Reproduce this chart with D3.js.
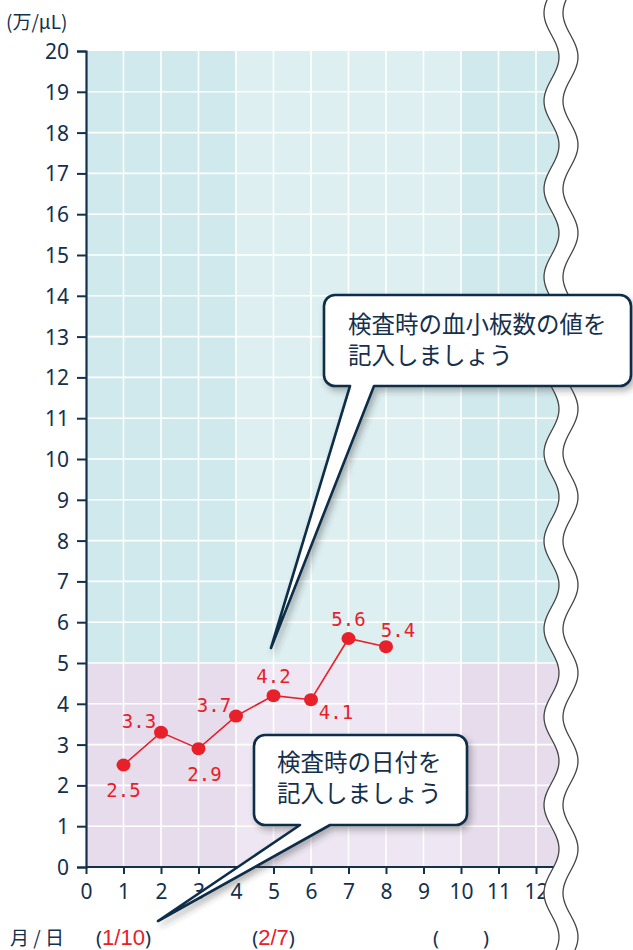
<!DOCTYPE html>
<html>
<head>
<meta charset="utf-8">
<script src="https://cdn.jsdelivr.net/npm/d3@7"></script>
<style>
  body { margin: 0; background: #fff; }
  svg { display: block; }
  .tick text { font-size: 21px; font-family: 'Noto Sans', 'Open Sans', sans-serif; }
</style>
</head>
<body>
<script>
const w = 633;
const h = 950;

// data
const visits = [1, 2, 3, 4, 5, 6, 7, 8];
const plateletValues = [2.5, 3.3, 2.9, 3.7, 4.2, 4.1, 5.6, 5.4];
const xTicks = [0, 1, 2, 3, 4, 5, 6, 7, 8, 9, 10, 11, 12];
const yTicks = d3.range(0, 21);
const dateSlots = [1, 5, 10];
const dateLabels = ["1/10", "2/7", ""];
const unitLabel = "(万/μL)";
const dateRowLabel = "月 / 日";
const valueCallout = ["検査時の血小板数の値を", "記入しましょう"];
const dateCallout = ["検査時の日付を", "記入しましょう"];

const navy = "#14304d";
const red = "#e8202a";
const numFont = "'Noto Sans', 'Open Sans', sans-serif";
const jpFont = "'Noto Sans CJK JP', sans-serif";

const x = d3.scaleLinear().domain([0, 12]).range([86, 536]);
const y = d3.scaleLinear().domain([0, 20]).range([867, 51]);
const xEnd = 12.7;

const svg = d3.select("body").append("svg")
    .attr("width", w)
    .attr("height", h);

const defs = svg.append("defs");
const shadow = defs.append("filter").attr("id", "shadow")
    .attr("x", "-20%").attr("y", "-20%").attr("width", "140%").attr("height", "140%");
shadow.append("feDropShadow")
    .attr("dx", 3).attr("dy", 4).attr("stdDeviation", 3)
    .attr("flood-color", "#333").attr("flood-opacity", 0.35);

// background bands: two value zones x three column groups
const bands = [
    { x0: 0, x1: 4, y0: 5, y1: 20, fill: "#d0e9ec" },
    { x0: 4, x1: 10, y0: 5, y1: 20, fill: "#ddeff1" },
    { x0: 10, x1: xEnd, y0: 5, y1: 20, fill: "#d0e9ec" },
    { x0: 0, x1: 4, y0: 0, y1: 5, fill: "#e6dcec" },
    { x0: 4, x1: 10, y0: 0, y1: 5, fill: "#eee7f3" },
    { x0: 10, x1: xEnd, y0: 0, y1: 5, fill: "#e6dcec" }
];
svg.append("g").selectAll("rect")
    .data(bands)
    .enter().append("rect")
    .attr("x", d => x(d.x0))
    .attr("y", d => y(d.y1))
    .attr("width", d => x(d.x1) - x(d.x0))
    .attr("height", d => y(d.y0) - y(d.y1))
    .attr("fill", d => d.fill);

// grid
const grid = svg.append("g").attr("stroke", "#fff").attr("stroke-width", 1.6);
grid.selectAll("line.v")
    .data(xTicks.filter(d => d > 0))
    .enter().append("line")
    .attr("class", "v")
    .attr("x1", d => x(d)).attr("x2", d => x(d))
    .attr("y1", y(20)).attr("y2", y(0));
grid.selectAll("line.h")
    .data(yTicks.filter(d => d > 0 && d < 20))
    .enter().append("line")
    .attr("class", "h")
    .attr("x1", x(0)).attr("x2", x(xEnd))
    .attr("y1", d => y(d)).attr("y2", d => y(d));

// axes
const yAxis = d3.axisLeft(y).tickValues(yTicks).tickSize(9).tickPadding(8);
const xAxis = d3.axisBottom(x).tickValues(xTicks).tickSize(7).tickPadding(10);

const gy = svg.append("g")
    .attr("transform", `translate(${x(0)},0)`)
    .call(yAxis);
const gx = svg.append("g")
    .attr("transform", `translate(0,${y(0)})`)
    .call(xAxis);
gx.select(".domain").attr("d", `M${x(0)},0H${x(xEnd)}`);
[gx, gy].forEach(g => {
    g.attr("font-size", null).attr("font-family", null);
    g.select(".domain").attr("stroke", navy).attr("stroke-width", 2.2);
    g.selectAll(".tick line").attr("stroke", navy).attr("stroke-width", 2);
    g.selectAll(".tick text").attr("fill", navy);
});
gy.selectAll(".tick text").attr("dy", "0.36em");

svg.append("text")
    .attr("x", 6).attr("y", 29)
    .attr("fill", navy)
    .style("font-family", jpFont)
    .style("font-size", "19px")
    .text(unitLabel);

// wavy break on the right
const waveX = yy => 551.5 + 7.5 * Math.cos(2 * Math.PI * (yy - 57) / 88);
const waveYs = d3.range(-10, h + 12, 2);
svg.append("path")
    .datum(waveYs)
    .attr("fill", "#fff")
    .attr("d", d3.area().y(d => d).x0(d => waveX(d)).x1(w + 5));
[0, 19].forEach(off => {
    svg.append("path")
        .datum(waveYs)
        .attr("fill", "none")
        .attr("stroke", "#444")
        .attr("stroke-width", 1.3)
        .attr("d", d3.line().y(d => d).x(d => waveX(d) + off).curve(d3.curveBasis));
});

// data line and points
const pts = visits.map((v, i) => ({ v, val: plateletValues[i] }));
svg.append("path")
    .datum(pts)
    .attr("fill", "none")
    .attr("stroke", red)
    .attr("stroke-width", 1.6)
    .attr("d", d3.line().x(d => x(d.v)).y(d => y(d.val)));
svg.append("g").selectAll("ellipse")
    .data(pts)
    .enter().append("ellipse")
    .attr("cx", d => x(d.v))
    .attr("cy", d => y(d.val))
    .attr("rx", 7).attr("ry", 6.5)
    .attr("fill", red);

// value labels: where each sits around its point
const labelSide = ["below", "upLeft", "belowRight", "upLeft", "up", "downRight", "up", "upRight"];
const sideOffset = {
    below: [0, 32], up: [0, -13], upLeft: [-22, -4], upRight: [12, -10],
    belowRight: [6, 32], downRight: [25, 19]
};
svg.append("g").selectAll("text")
    .data(pts)
    .enter().append("text")
    .attr("x", (d, i) => x(d.v) + sideOffset[labelSide[i]][0])
    .attr("y", (d, i) => y(d.val) + sideOffset[labelSide[i]][1])
    .attr("text-anchor", "middle")
    .attr("fill", red)
    .style("font-family", "'DejaVu Sans Mono', monospace")
    .style("font-size", "19px")
    .text(d => d.val.toFixed(1));

// date row
svg.append("text")
    .attr("x", 10).attr("y", 945)
    .attr("fill", navy)
    .style("font-family", jpFont)
    .style("font-size", "19px")
    .text(dateRowLabel);
const dates = svg.append("g").selectAll("text")
    .data(dateSlots)
    .enter().append("text")
    .attr("x", d => x(d))
    .attr("y", 945)
    .attr("text-anchor", "middle")
    .style("font-size", "20px");
dates.append("tspan").attr("fill", navy).style("font-family", numFont).text("(");
dates.append("tspan")
    .attr("fill", red)
    .style("font-family", "'Liberation Sans Narrow', 'Liberation Sans', sans-serif")
    .style("font-size", "22px")
    .text((d, i) => dateLabels[i] ? dateLabels[i] : "\u2003\u2003");
dates.append("tspan").attr("fill", navy).style("font-family", numFont).text(")");

// callouts
function callout(box, tail, lines) {
    const { x0, y0, x1, y1 } = box;
    const r = 11;
    const p = d3.path();
    p.moveTo(x0 + r, y0);
    p.lineTo(x1 - r, y0);
    p.arcTo(x1, y0, x1, y0 + r, r);
    p.lineTo(x1, y1 - r);
    p.arcTo(x1, y1, x1 - r, y1, r);
    p.lineTo(tail.b2, y1);
    p.lineTo(tail.tx, tail.ty);
    p.lineTo(tail.b1, y1);
    p.lineTo(x0 + r, y1);
    p.arcTo(x0, y1, x0, y1 - r, r);
    p.lineTo(x0, y0 + r);
    p.arcTo(x0, y0, x0 + r, y0, r);
    p.closePath();
    const g = svg.append("g");
    g.append("path")
        .attr("d", p.toString())
        .attr("fill", "#fff")
        .attr("stroke", "#0e2d4a")
        .attr("stroke-width", 2.6)
        .attr("stroke-linejoin", "round")
        .attr("filter", "url(#shadow)");
    g.selectAll("text")
        .data(lines)
        .enter().append("text")
        .attr("x", box.tx)
        .attr("y", (d, i) => box.ty + i * 31)
        .attr("fill", navy)
        .style("font-family", jpFont)
        .style("font-size", "23.5px")
        .text(d => d);
}

callout({ x0: 324, y0: 295, x1: 631, y1: 386, tx: 348, ty: 333 },
        { b1: 350, b2: 374, tx: 271, ty: 648 }, valueCallout);
callout({ x0: 254, y0: 735, x1: 467, y1: 825, tx: 277, ty: 771 },
        { b1: 300, b2: 330, tx: 158, ty: 921 }, dateCallout);
</script>
</body>
</html>
